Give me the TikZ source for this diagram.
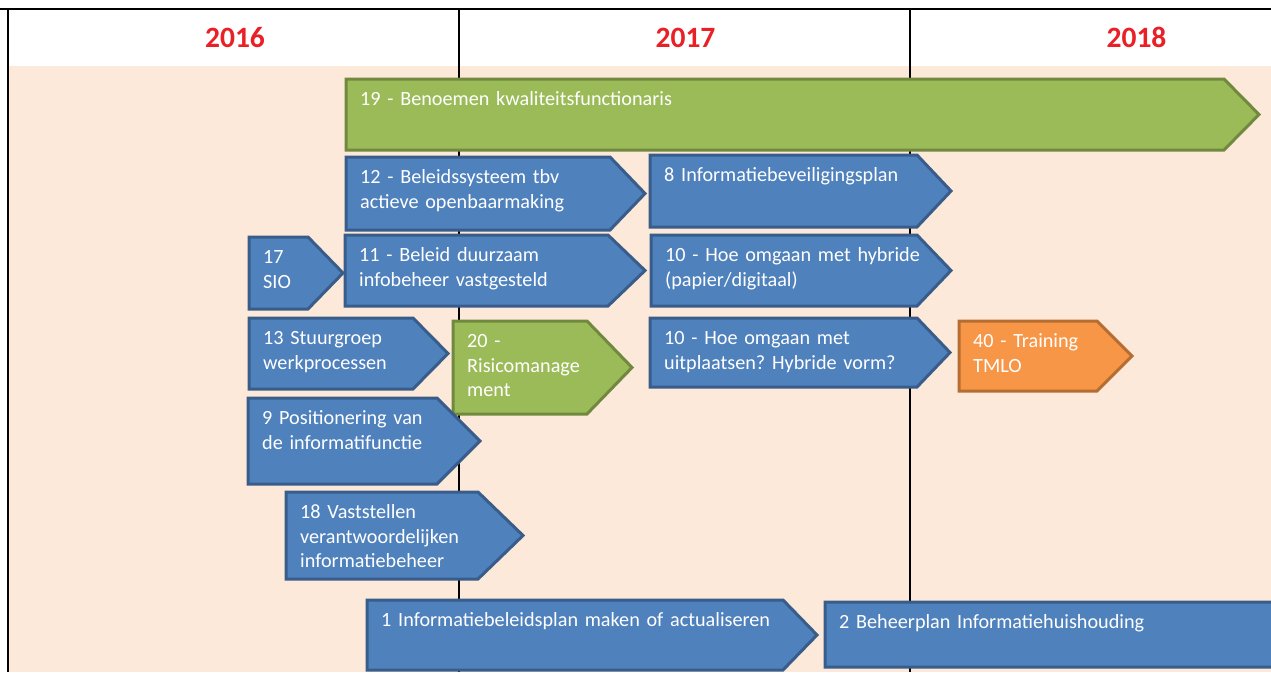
\documentclass[tikz,border=0pt]{standalone}
\usepackage{fontspec}
\setmainfont[WordSpace=0.8]{Carlito}
\frenchspacing
\definecolor{peach}{RGB}{253,233,217}
\definecolor{yearred}{RGB}{233,32,38}
\definecolor{bfill}{RGB}{79,129,189}
\definecolor{bline}{RGB}{56,93,138}
\definecolor{gfill}{RGB}{155,187,89}
\definecolor{gline}{RGB}{113,137,63}
\definecolor{ofill}{RGB}{247,150,70}
\definecolor{oline}{RGB}{182,109,49}
\tikzset{
  bluebox/.style={fill=bfill,draw=bline,line width=3pt,line join=miter},
  greenbox/.style={fill=gfill,draw=gline,line width=3pt,line join=miter},
  orangebox/.style={fill=ofill,draw=oline,line width=3pt,line join=miter},
  lbl/.style={anchor=base west,inner sep=0pt,text=white,text width=480pt,align=left,
    font=\frenchspacing\fontsize{20.2}{24.7}\selectfont},
  yearlbl/.style={anchor=base,inner sep=0pt,text=yearred,font=\bfseries\fontsize{29.5}{34}\selectfont},
  gridline/.style={line width=2pt,black}
}
\newcommand\chevbox[8]{%
  \draw[#2] (#3,#4) -- (#5,#4) -- (#6,{(#4+#7)/2}) -- (#5,#7) -- (#3,#7) -- cycle;
  \node[lbl] (#1) at ({#3+14},{#4+26.5}) {#8};
}
\begin{document}
\begin{tikzpicture}[x=1pt,y=-1pt]
\useasboundingbox (0,0) rectangle (1271,672);
\clip (0,0) rectangle (1271,672);
\fill[white] (0,0) rectangle (1271,672);
\fill[peach] (8,66) rectangle (1271,672);
% grid
\coordinate (tl) at (0,9);
\coordinate (tr) at (1271,9);
\draw[gridline] (tl) -- (tr);
\coordinate (v1t) at (8,9); \coordinate (v1b) at (8,672);
\coordinate (v2t) at (459,9); \coordinate (v2b) at (459,672);
\coordinate (v3t) at (910,9); \coordinate (v3b) at (910,672);
\draw[gridline] (v1t) -- (v1b);
\draw[gridline] (v2t) -- (v2b);
\draw[gridline] (v3t) -- (v3b);
% years
\node[yearlbl] (y2016) at (235,47.5) {2016};
\node[yearlbl] (y2017) at (685.5,47.5) {2017};
\node[yearlbl] (y2018) at (1136.5,47.5) {2018};
% bars
\chevbox{b19}{greenbox}{346}{79}{1224}{1259}{150}{19 - Benoemen kwaliteitsfunctionaris}
\chevbox{b12}{bluebox}{346}{157}{610}{645}{230}{12 - Beleidssysteem tbv\\actieve openbaarmaking}
\chevbox{b8}{bluebox}{650}{155}{917}{951}{227}{8 Informatiebeveiligingsplan}
\chevbox{b17}{bluebox}{249}{237}{308}{343}{309}{17\\SIO}
\chevbox{b11}{bluebox}{345}{235}{608}{645}{306}{11 - Beleid duurzaam\\infobeheer vastgesteld}
\chevbox{b10a}{bluebox}{651}{235}{917}{951}{306}{10 - Hoe omgaan met hybride\\(papier/digitaal)}
\chevbox{b13}{bluebox}{249}{318}{413}{448}{389}{13 Stuurgroep\\werkprocessen}
\chevbox{b20}{greenbox}{453}{321}{587}{632}{414}{20 -\\Risicomanage\\ment}
\chevbox{b10b}{bluebox}{650}{318}{917}{950}{387}{10 - Hoe omgaan met\\uitplaatsen? Hybride vorm?}
\chevbox{b40}{orangebox}{959}{321}{1097}{1132}{391}{40 - Training\\TMLO}
\chevbox{b9}{bluebox}{248}{398}{437}{480}{484}{9 Positionering van\\de informatifunctie}
\chevbox{b18}{bluebox}{286}{492}{478}{523}{579}{18 Vaststellen\\verantwoordelijken\\informatiebeheer}
\chevbox{b1}{bluebox}{367}{600}{783}{817}{670}{1 Informatiebeleidsplan maken of actualiseren}
\chevbox{b2}{bluebox}{825}{602}{1300}{1333}{667}{2 Beheerplan Informatiehuishouding}
\end{tikzpicture}
\end{document}
